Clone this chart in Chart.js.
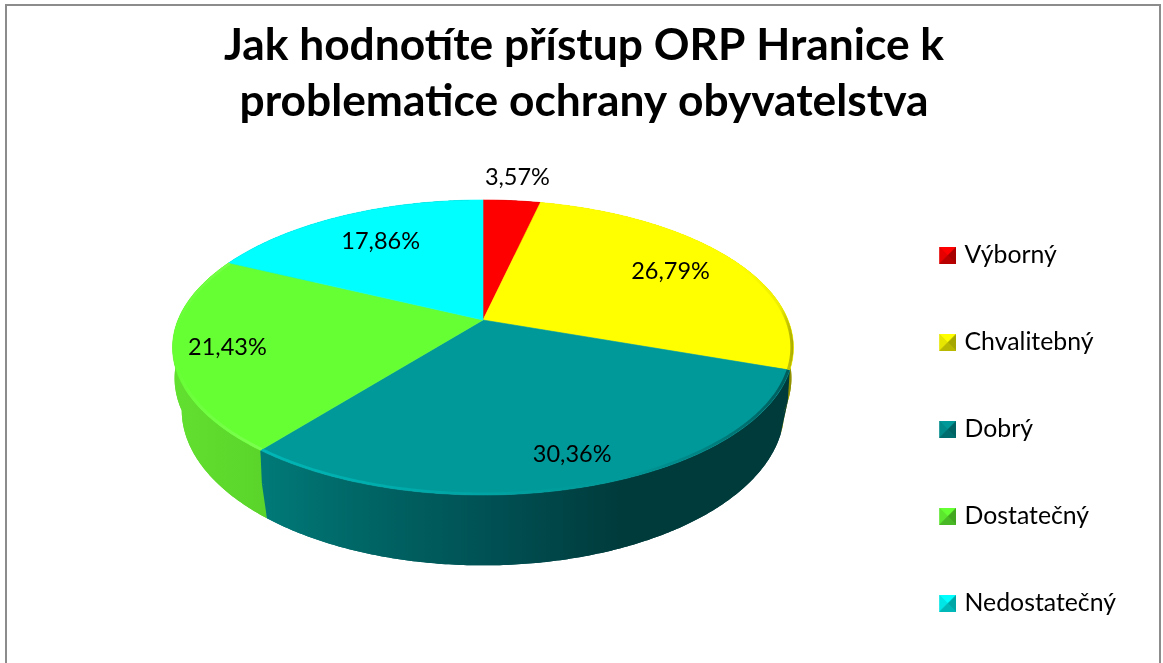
<!DOCTYPE html>
<html lang="cs">
<head>
<meta charset="utf-8">
<title>Jak hodnotíte přístup ORP Hranice</title>
<script src="https://cdn.jsdelivr.net/npm/chart.js@4/dist/chart.umd.min.js"></script>
<style>
  html, body { margin: 0; padding: 0; background: #fff; }
  canvas { display: block; }
</style>
</head>
<body>
<canvas id="pie3d" width="1163" height="663"></canvas>
<script>
const categories = ['Výborný', 'Chvalitebný', 'Dobrý', 'Dostatečný', 'Nedostatečný'];
const percents = [3.57, 26.79, 30.36, 21.43, 17.86];
const titleLines = ['Jak hodnotíte přístup ORP Hranice k', 'problematice ochrany obyvatelstva'];
const topColors = ['#ff0000', '#ffff00', '#009999', '#66ff33', '#00ffff'];
// where the value label sits: fraction of the pie radius, and a small turn off the slice middle
const labelRadius = [1.24, 0.75, 0.84, 0.83, 0.72];
const labelTurn = [0, 0, -0.02, 0, 0.015];

// side wall colours, [x, colour] along the page
const sideStops = [
    [[480, '#b30000'], [540, '#900000']],
    [[700, '#b8b800'], [795, '#8f8f00']],
    [[262, '#007a78'], [360, '#006666'], [500, '#004f52'], [620, '#003b3c'], [790, '#003b3c']],
    [[172, '#62e030'], [265, '#5ad42a']],
    [[230, '#00b3b3'], [480, '#009090']]
];
// thin bevel along the front edge of the top face
const rimStops = [
    null,
    [[740, '#ffff00'], [780, '#eeee00'], [795, '#a0a000']],
    [[262, '#00b6b6'], [420, '#00aaaa'], [520, '#009f9f'], [620, '#009999'], [700, '#008484'], [790, '#005c5c']],
    [[172, '#66ff33'], [200, '#70ff40'], [265, '#7cff50']],
    null
];

// perspective of the pie: parallel discs seen from above, the middle one rounds the wall
const cx = 483;
const topDisc = { y0: 320, sx: 305, sy: 142.4, k: 0.1864 };
const midDisc = { y0: 350, sx: 303, sy: 146, k: 0.1864 };
const bottomDisc = { y0: 381, sx: 296, sy: 150, k: 0.1864 };

function project(angle, r, disc) {
    const u = Math.cos(angle) * r, v = Math.sin(angle) * r;
    const d = 1 - disc.k * v;
    return { x: cx + disc.sx * u / d, y: disc.y0 + disc.sy * v / d };
}

function arcPoints(start, end, r, disc) {
    const n = Math.max(2, Math.ceil((end - start) / 0.01));
    let pts = [];
    for (let i = 0; i <= n; i++) pts.push(project(start + (end - start) * i / n, r, disc));
    return pts;
}

function xGradient(ctx, stops) {
    const x0 = stops[0][0], x1 = stops[stops.length - 1][0];
    const g = ctx.createLinearGradient(x0, 0, x1, 0);
    stops.forEach(s => g.addColorStop((s[0] - x0) / (x1 - x0), s[1]));
    return g;
}

function traceTop(ctx, arc) {
    const apex = project(0, 0, topDisc);
    ctx.beginPath();
    ctx.moveTo(apex.x, apex.y);
    arcPoints(arc.startAngle, arc.endAngle, 1, topDisc).forEach(p => ctx.lineTo(p.x, p.y));
    ctx.closePath();
}

function fillWall(ctx, arc, upper, lower) {
    ctx.beginPath();
    arcPoints(arc.startAngle, arc.endAngle, 1, upper).forEach(p => ctx.lineTo(p.x, p.y));
    arcPoints(arc.startAngle, arc.endAngle, 1, lower).reverse().forEach(p => ctx.lineTo(p.x, p.y));
    ctx.closePath();
    ctx.fill();
}

const pie3dPlugin = {
    id: 'pie3d',
    beforeDraw(chart) {
        // outer frame, cut off by the bottom of the picture
        const ctx = chart.ctx;
        ctx.save();
        ctx.strokeStyle = '#8c8c8c';
        ctx.lineWidth = 2;
        ctx.beginPath();
        ctx.moveTo(6, 663);
        ctx.lineTo(6, 5);
        ctx.lineTo(1160, 5);
        ctx.lineTo(1160, 663);
        ctx.stroke();
        ctx.restore();
    },
    beforeDatasetDraw(chart) {
        const ctx = chart.ctx;
        const arcs = chart.getDatasetMeta(0).data;
        ctx.save();

        // side walls, back ones first; the last fill hides the seam at the middle disc
        const order = arcs.map((a, i) => i).sort((i, j) =>
            Math.sin((arcs[i].startAngle + arcs[i].endAngle) / 2) - Math.sin((arcs[j].startAngle + arcs[j].endAngle) / 2));
        order.forEach(i => {
            ctx.fillStyle = xGradient(ctx, sideStops[i]);
            fillWall(ctx, arcs[i], topDisc, midDisc);
            fillWall(ctx, arcs[i], midDisc, bottomDisc);
            fillWall(ctx, arcs[i], topDisc, bottomDisc);
        });

        // top face
        arcs.forEach((a, i) => {
            traceTop(ctx, a);
            ctx.fillStyle = topColors[i];
            ctx.strokeStyle = topColors[i];
            ctx.lineWidth = 0.6;
            ctx.fill();
            ctx.stroke();
        });

        // bevel
        arcs.forEach((a, i) => {
            if (!rimStops[i]) return;
            ctx.save();
            traceTop(ctx, a);
            ctx.clip();
            ctx.beginPath();
            arcPoints(a.startAngle, a.endAngle, 0.995, topDisc).forEach(p => ctx.lineTo(p.x, p.y));
            ctx.strokeStyle = xGradient(ctx, rimStops[i]);
            ctx.lineWidth = 3;
            ctx.stroke();
            ctx.restore();
        });
        ctx.restore();
        return false;
    },
    afterDatasetsDraw(chart) {
        const ctx = chart.ctx;
        const arcs = chart.getDatasetMeta(0).data;
        ctx.save();
        ctx.font = '23.5px Lato';
        ctx.fillStyle = '#000';
        ctx.textAlign = 'center';
        ctx.textBaseline = 'middle';
        arcs.forEach((a, i) => {
            const p = project((a.startAngle + a.endAngle) / 2 + labelTurn[i], labelRadius[i], topDisc);
            ctx.fillText(percents[i].toFixed(2).replace('.', ',') + '%', p.x, p.y);
        });
        ctx.restore();
    }
};

function shade(hex, f) {
    const n = parseInt(hex.slice(1), 16);
    const c = [n >> 16, (n >> 8) & 255, n & 255].map(v => Math.round(v * f));
    return `rgb(${c[0]},${c[1]},${c[2]})`;
}

// little bevelled square for the legend, transparent strip on the left to place it
function legendMarker(color) {
    const c = document.createElement('canvas');
    c.width = 23; c.height = 17;
    const g = c.getContext('2d');
    const x0 = 6, x1 = 23, y0 = 0, y1 = 17, m = 8.5;
    g.fillStyle = shade(color, 0.8);
    g.fillRect(x0, y0, x1 - x0, y1 - y0);
    const faces = [
        [[x0, y0], [x1, y0], [x0 + m, m], 1],
        [[x0, y0], [x0, y1], [x0 + m, m], 0.9],
        [[x1, y0], [x1, y1], [x0 + m, m], 0.65],
        [[x0, y1], [x1, y1], [x0 + m, m], 0.72]
    ];
    faces.forEach(f => {
        g.beginPath();
        g.moveTo(f[0][0], f[0][1]);
        g.lineTo(f[1][0], f[1][1]);
        g.lineTo(f[2][0], f[2][1]);
        g.closePath();
        g.fillStyle = shade(color, f[3]);
        g.fill();
    });
    return c;
}

new Chart(document.getElementById('pie3d'), {
    type: 'pie',
    data: {
        labels: categories,
        datasets: [{ data: percents, backgroundColor: topColors, borderWidth: 0 }]
    },
    options: {
        responsive: false,
        animation: false,
        layout: { padding: { top: 18, left: 42, right: 37, bottom: -15 } },
        plugins: {
            tooltip: { enabled: false },
            title: {
                display: true,
                text: titleLines,
                color: '#000',
                font: { family: 'Lato', size: 44.3, weight: 'bold', lineHeight: 56 / 44.3 },
                padding: { top: 0, bottom: 30 }
            },
            legend: {
                position: 'right',
                align: 'end',
                labels: {
                    color: '#000',
                    font: { family: 'Lato', size: 24.8 },
                    padding: 62.2,
                    boxWidth: 15,
                    usePointStyle: true,
                    generateLabels: () => categories.map((name, i) => ({
                        text: name,
                        pointStyle: legendMarker(topColors[i]),
                        fontColor: '#000',
                        lineWidth: 0,
                        index: i
                    }))
                }
            }
        }
    },
    plugins: [pie3dPlugin]
});
</script>
</body>
</html>
